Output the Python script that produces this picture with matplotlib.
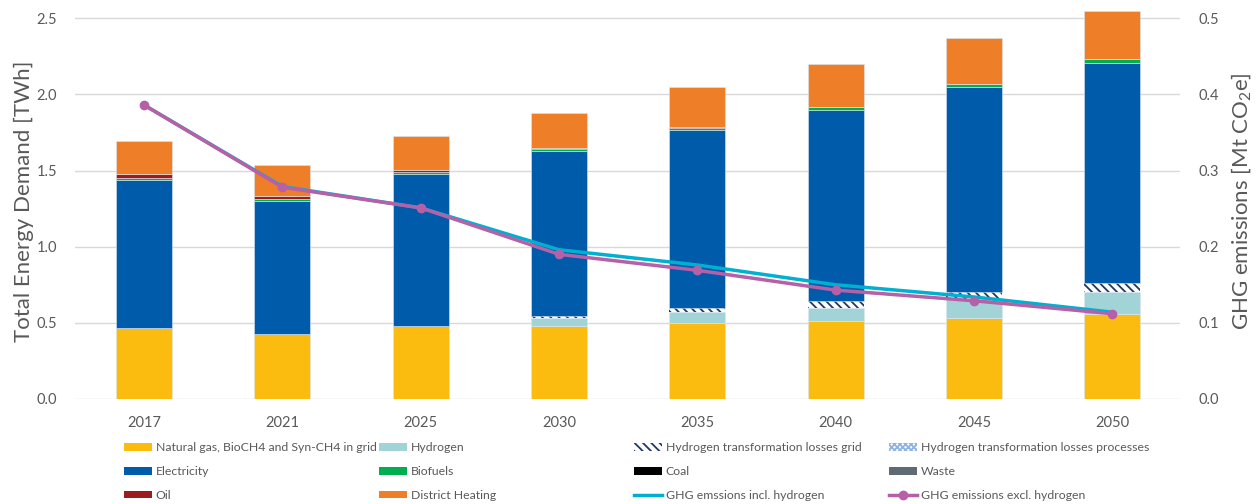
import matplotlib
matplotlib.use("Agg")
import matplotlib.pyplot as plt
from matplotlib.patches import Patch
from matplotlib.lines import Line2D
import numpy as np

plt.rcParams['font.family'] = ['Lato', 'DejaVu Sans']
plt.rcParams['mathtext.fontset'] = 'custom'
plt.rcParams['mathtext.rm'] = 'Lato'
plt.rcParams['hatch.linewidth'] = 1.3

years = ["2017", "2021", "2025", "2030", "2035", "2040", "2045", "2050"]
natural_gas = [0.466, 0.425, 0.480, 0.480, 0.500, 0.510, 0.530, 0.560]
hydrogen = [0.0, 0.0, 0.0, 0.050, 0.070, 0.090, 0.125, 0.140]
h2_losses_grid = [0.0, 0.0, 0.0, 0.015, 0.030, 0.045, 0.045, 0.060]
h2_losses_proc = [0.0, 0.0, 0.0, 0.0, 0.0, 0.0, 0.0, 0.0]
electricity = [0.971, 0.875, 0.995, 1.085, 1.165, 1.255, 1.350, 1.445]
biofuels = [0.012, 0.015, 0.015, 0.012, 0.015, 0.020, 0.020, 0.030]
coal = [0.0, 0.0, 0.0, 0.0, 0.0, 0.0, 0.0, 0.0]
waste = [0.0, 0.0, 0.0, 0.0, 0.0, 0.0, 0.0, 0.0]
oil = [0.025, 0.020, 0.015, 0.008, 0.005, 0.0, 0.0, 0.0]
district_heating = [0.219, 0.200, 0.225, 0.230, 0.265, 0.280, 0.300, 0.315]
ghg_incl_h2 = [0.386, 0.279, 0.251, 0.196, 0.176, 0.150, 0.134, 0.114]
ghg_excl_h2 = [0.386, 0.278, 0.251, 0.190, 0.169, 0.143, 0.129, 0.112]

c_gas = '#FBBC0F'
c_h2 = '#A2D3D7'
c_el = '#005BAA'
c_bio = '#00B050'
c_coal = '#000000'
c_waste = '#5F6B73'
c_oil = '#9B1B1F'
c_dh = '#EE7F28'
c_cyan = '#00B0D0'
c_pink = '#B660A8'
c_text = '#595959'
c_hatch = '#1F3864'

fig = plt.figure(figsize=(12.58, 5.04), dpi=100)
ax = fig.add_axes([75/1258, 1-399/504, 1105/1258, 396/504])
ax2 = ax.twinx()

x = np.arange(len(years))
w = 0.405
bottom = np.zeros(len(years))
series = [
    (natural_gas, c_gas, None, None),
    (hydrogen, c_h2, None, None),
    (h2_losses_grid, 'white', '\\\\\\\\', c_hatch),
    (h2_losses_proc, 'white', 'xxxxxx', '#8EB4E3'),
    (electricity, c_el, None, None),
    (biofuels, c_bio, None, None),
    (coal, c_coal, None, None),
    (waste, c_waste, None, None),
    (oil, c_oil, None, None),
    (district_heating, c_dh, None, None),
]
for vals, col, hatch, hcol in series:
    vals = np.array(vals)
    if hatch:
        ax.bar(x, vals, w, bottom=bottom, color=col, hatch=hatch, edgecolor=hcol,
               linewidth=0, zorder=2)
    else:
        ax.bar(x, vals, w, bottom=bottom, color=col, edgecolor='#DDE6EE',
               linewidth=0.4, zorder=2)
    bottom += vals

ax.set_ylim(0, 2.6)
ax.set_yticks([0, 0.5, 1.0, 1.5, 2.0, 2.5])
ax.set_yticklabels(['0.0', '0.5', '1.0', '1.5', '2.0', '2.5'])
ax.set_xlim(-0.5, len(years) - 0.51)
ax.set_xticks(x)
ax.set_xticklabels(years)
ax.grid(axis='y', color='#D9D9D9', linewidth=1, zorder=0)
ax.set_axisbelow(True)
for s in ax.spines.values():
    s.set_visible(False)
for s in ax2.spines.values():
    s.set_visible(False)
ax.tick_params(axis='both', length=0, colors=c_text, labelsize=10.5)
ax.tick_params(axis='y', pad=13)
ax.tick_params(axis='x', pad=12)
ax.set_ylabel('Total Energy Demand [TWh]', fontsize=16, color=c_text, labelpad=2)

ax2.plot(x, ghg_incl_h2, color=c_cyan, linewidth=2.5, zorder=3)
ax2.plot(x, ghg_excl_h2, color=c_pink, linewidth=2.5, marker='o', markersize=6, zorder=4)
ax2.set_ylim(0, 0.52)
ax2.set_yticks([0, 0.1, 0.2, 0.3, 0.4, 0.5])
ax2.set_yticklabels(['0.0', '0.1', '0.2', '0.3', '0.4', '0.5'])
ax2.tick_params(axis='y', length=0, colors=c_text, labelsize=10.5, pad=13)
ax2.set_ylabel('GHG emissions [Mt CO$_2$e]', fontsize=16, color=c_text, labelpad=8)

def ph(col, hatch=None, ec=None):
    if hatch:
        return Patch(facecolor='white', hatch=hatch, edgecolor=ec, linewidth=0)
    return Patch(facecolor=col, edgecolor='none')

cols = [
    [(ph(c_gas), 'Natural gas, BioCH4 and Syn-CH4 in grid'),
     (ph(c_el), 'Electricity'),
     (ph(c_oil), 'Oil')],
    [(ph(c_h2), 'Hydrogen'),
     (ph(c_bio), 'Biofuels'),
     (ph(c_dh), 'District Heating')],
    [(ph(None, '\\\\\\\\', c_hatch), 'Hydrogen transformation losses grid'),
     (ph(c_coal), 'Coal'),
     (Line2D([], [], color=c_cyan, linewidth=2.5), 'GHG emssions incl. hydrogen')],
    [(ph(None, 'xxxxxx', '#8EB4E3'), 'Hydrogen transformation losses processes'),
     (ph(c_waste), 'Waste'),
     (Line2D([], [], color=c_pink, linewidth=2.5, marker='o', markersize=6), 'GHG emissions excl. hydrogen')],
]
xs = [124, 379, 634, 889]
for xp, items in zip(xs, cols):
    fig.legend([h for h, _ in items], [l for _, l in items],
               loc='upper left', bbox_to_anchor=(xp/1258, 1-442/504),
               frameon=False, fontsize=8.8, handlelength=2.3, handleheight=0.6,
               handletextpad=0.3, labelspacing=1.06, borderaxespad=0, borderpad=0,
               labelcolor=c_text)

fig.savefig('out.png', dpi=100)
